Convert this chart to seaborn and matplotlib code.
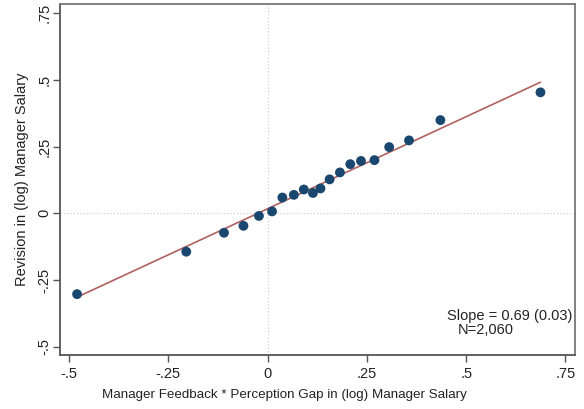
import matplotlib
matplotlib.use("Agg")
import matplotlib.pyplot as plt
import seaborn as sns
import numpy as np
import pandas as pd

# Binned means (20 bins)
feedback_gap = [-0.480, -0.205, -0.110, -0.061, -0.022, 0.011, 0.037, 0.066, 0.091, 0.114,
                0.133, 0.156, 0.182, 0.208, 0.235, 0.269, 0.306, 0.356, 0.435, 0.687]
salary_revision = [-0.303, -0.144, -0.073, -0.047, -0.010, 0.007, 0.059, 0.069, 0.089, 0.076,
                   0.093, 0.127, 0.153, 0.184, 0.196, 0.199, 0.248, 0.273, 0.349, 0.453]

# Fitted line
slope = 0.69
slope_se = 0.03
intercept = 0.017
n_obs = 2060

x_ticks = [-0.5, -0.25, 0, 0.25, 0.5, 0.75]
x_ticklabels = ["-.5", "-.25", "0", ".25", ".5", ".75"]
y_ticks = [-0.5, -0.25, 0, 0.25, 0.5, 0.75]
y_ticklabels = ["-.5", "-.25", "0", ".25", ".5", ".75"]

df = pd.DataFrame({"x": feedback_gap, "y": salary_revision})

sns.set_theme(style="white")
plt.rcParams["font.family"] = ["Liberation Sans", "DejaVu Sans"]

W, H = 584, 409
fig = plt.figure(figsize=(W / 100, H / 100), dpi=100)
ax = fig.add_axes([60 / W, 1 - 355 / H, 515 / W, 351 / H])

ax.axvline(0, color="#c8c8c8", lw=0.8, ls=(0, (1, 2)), zorder=0)
ax.axhline(0, color="#c8c8c8", lw=0.8, ls=(0, (1, 2)), zorder=0)

line_x = np.array([min(feedback_gap), max(feedback_gap)])
ax.plot(line_x, intercept + slope * line_x, color="#b0605f", lw=1.2, zorder=2)

sns.scatterplot(data=df, x="x", y="y", ax=ax, color="#1a476f", s=50,
                edgecolor="none", zorder=3)

ax.set_xlim(-0.523, 0.774)
ax.set_ylim(-0.531, 0.784)
ax.set_xticks(x_ticks)
ax.set_xticklabels(x_ticklabels, fontsize=10.5, color="#222222")
ax.set_yticks(y_ticks)
ax.set_yticklabels(y_ticklabels, fontsize=10.5, color="#222222", rotation=90, va="center")

ax.tick_params(axis="x", direction="out", length=5, width=1, color="#555555",
               bottom=True, pad=4)
ax.tick_params(axis="y", direction="out", length=5, width=1, color="#555555",
               left=True, pad=1)

for side, sp in ax.spines.items():
    sp.set_color("#777777")
    sp.set_linewidth(1.3)
ax.spines["left"].set_color("#555555")
ax.spines["bottom"].set_color("#555555")

ax.set_xlabel("")
ax.set_ylabel("Revision in (log) Manager Salary", fontsize=10.5, color="#222222", labelpad=6)
fig.text(284 / W, 1 - 395 / H, "Manager Feedback * Perception Gap in (log) Manager Salary",
         ha="center", va="center", fontsize=9.6, color="#222222")

ax.text(572 / W, 1 - 316 / H, f"Slope = {slope:.2f} ({slope_se:.2f})",
        transform=fig.transFigure, ha="right", va="center", fontsize=10.5, color="#222222")
ax.text(458 / W, 1 - 330 / H, f"N={n_obs:,}",
        transform=fig.transFigure, ha="left", va="center", fontsize=10.5, color="#222222")

fig.savefig("out.png", dpi=100)
